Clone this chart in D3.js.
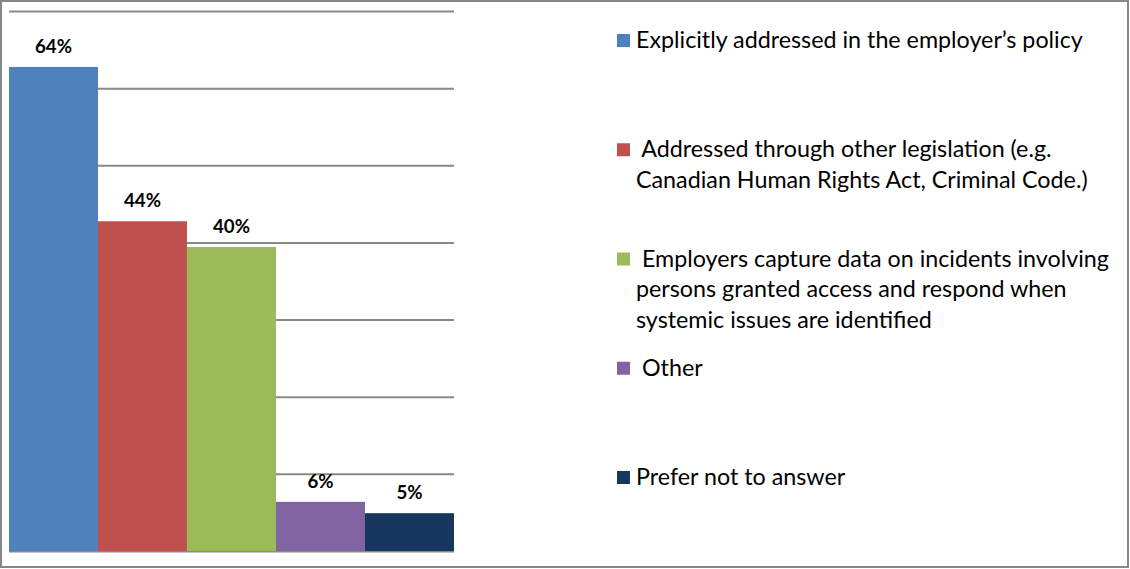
<!DOCTYPE html>
<html>
<head>
<meta charset="utf-8">
<script src="https://cdn.jsdelivr.net/npm/d3@7"></script>
<style>
  html, body { margin: 0; padding: 0; background: #fff; }
  svg { display: block; }
  text { font-family: Lato, "Open Sans", sans-serif; }
</style>
</head>
<body>
<svg id="chart" width="1130" height="569"></svg>
<script>
// ---- data ----
const categories = [
  "Explicitly addressed in the employer’s policy",
  "Addressed through other legislation (e.g. Canadian Human Rights Act, Criminal Code.)",
  "Employers capture data on incidents involving persons granted access and respond when systemic issues are identified",
  "Other",
  "Prefer not to answer"
];
const legendLines = [
  ["Explicitly addressed in the employer’s policy"],
  [" Addressed through other legislation (e.g.", "Canadian Human Rights Act, Criminal Code.)"],
  [" Employers capture data on incidents involving", "persons granted access and respond when", "systemic issues are identified"],
  [" Other"],
  ["Prefer not to answer"]
];
const values = [64, 43.6, 40.2, 6.5, 5];
const valueLabels = ["64%", "44%", "40%", "6%", "5%"];
const colors = ["#4F81BD", "#C0504D", "#9BBB59", "#8064A2", "#17375E"];
const yMax = 71.4;
const gridCount = 7;

// ---- layout ----
const svg = d3.select("#chart");
const plot = { left: 9, right: 454, top: 11, bottom: 551 };

const x = d3.scaleBand().domain(categories).range([plot.left, plot.right]).padding(0);
const y = d3.scaleLinear().domain([0, yMax]).range([plot.bottom, plot.top]);

// outer border
svg.append("rect")
  .attr("x", 1).attr("y", 1).attr("width", 1127).attr("height", 566)
  .attr("fill", "#fff").attr("stroke", "#878787").attr("stroke-width", 2);

// gridlines
const gridVals = d3.range(0, gridCount + 1).map(i => i * yMax / gridCount);
const yAxis = d3.axisLeft(y).tickValues(gridVals).tickSize(-(plot.right - plot.left)).tickFormat("");
const gAxis = svg.append("g").attr("transform", `translate(${plot.left},0)`).call(yAxis);
gAxis.select(".domain").remove();
gAxis.selectAll(".tick line").attr("stroke", "#898989").attr("stroke-width", 2);

// bars
svg.append("g").selectAll("rect")
  .data(values)
  .join("rect")
  .attr("x", (d, i) => x(categories[i]))
  .attr("y", d => y(d))
  .attr("width", x.bandwidth())
  .attr("height", d => y(0) - y(d))
  .attr("fill", (d, i) => colors[i]);

// value labels
const lbl = svg.append("g").selectAll("text")
  .data(values)
  .join("text")
  .attr("x", (d, i) => x(categories[i]) + x.bandwidth() / 2)
  .attr("y", d => y(d) - 14)
  .attr("text-anchor", "middle")
  .attr("font-weight", "bold")
  .attr("fill", "#000")
  .attr("font-size", 18)
  .text((d, i) => valueLabels[i]);
// fit label size to reference width (~37px for "64%")
{
  const w = lbl.nodes()[0].getComputedTextLength();
  lbl.attr("font-size", 18 * 37 / w);
}

// legend
const legend = svg.append("g");
const legX = 617, textX = 636, sq = 13, firstBase = 48, itemStep = 109.25, lineH = 30.7;
legendLines.forEach((lines, i) => {
  const base = firstBase + i * itemStep;
  legend.append("rect")
    .attr("x", legX).attr("y", base - 14).attr("width", sq).attr("height", sq)
    .attr("fill", colors[i]);
  lines.forEach((ln, j) => {
    legend.append("text")
      .attr("class", "leg")
      .attr("x", textX).attr("y", base + j * lineH)
      .attr("font-size", 20)
      .attr("fill", "#000")
      .style("white-space", "pre")
      .text(ln);
  });
});
{
  const first = legend.select("text.leg").node();
  const w = first.getComputedTextLength();
  legend.selectAll("text.leg").attr("font-size", 20 * 447 / w);
}
</script>
</body>
</html>
